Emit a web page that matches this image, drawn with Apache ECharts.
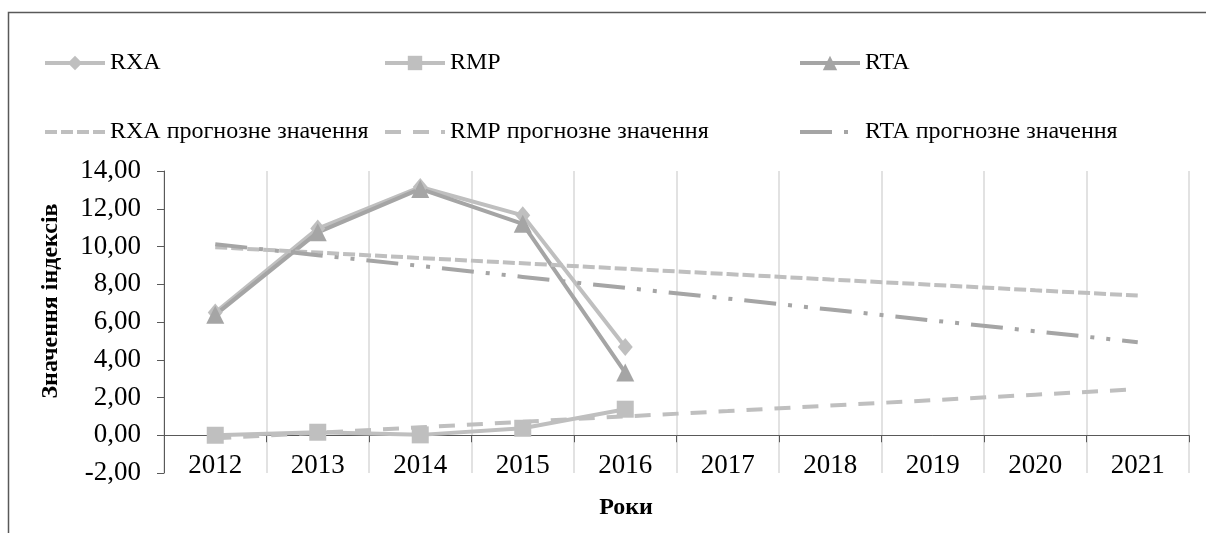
<!DOCTYPE html>
<html>
<head>
<meta charset="utf-8">
<title>RXA / RMP / RTA</title>
<script src="https://cdn.jsdelivr.net/npm/echarts@6/dist/echarts.min.js"></script>
<style>
  html, body { margin: 0; padding: 0; background: #fff; }
  #chart { width: 1206px; height: 533px; }
</style>
</head>
<body>
<div id="chart"></div>
<script>
"use strict";

// роки (категорії осі X)
var years = ['2012', '2013', '2014', '2015', '2016', '2017', '2018', '2019', '2020', '2021'];

// фактичні значення індексів (2012-2016)
var rxa = [6.50, 10.95, 13.15, 11.65, 4.68];
var rmp = [0.00, 0.16, 0.02, 0.37, 1.38];
var rta = [6.38, 10.75, 13.05, 11.20, 3.32];

// прогнозні значення (2012-2021)
var rxaForecast = [9.96, 9.68, 9.39, 9.11, 8.82, 8.54, 8.25, 7.97, 7.68, 7.40];
var rmpForecast = [-0.16, 0.13, 0.42, 0.71, 1.00, 1.28, 1.57, 1.86, 2.15, 2.44];
var rtaForecast = [10.12, 9.54, 8.97, 8.39, 7.81, 7.24, 6.66, 6.08, 5.51, 4.93];

// підписи осі Y
var yMin = -2, yMax = 14, yStep = 2;

var FONT = '"Liberation Serif", "Times New Roman", serif';
var LIGHT = '#bfbfbf', DARK = '#a5a5a5', AXIS = '#595959';
var GRID_TOP = 171, GRID_H = 302;

/**
 * build one legend column (actual series on top, forecast below)
 * @param left
 * @param name
 */
function legendColumn(left, name) {
  return {
    orient: 'vertical',
    left: left,
    top: 51,
    padding: 0,
    itemWidth: 60,
    itemHeight: 18,
    itemGap: 45,
    lineStyle: { width: 4 },
    data: [
      name,
      { name: name + ' прогнозне значення', itemStyle: { opacity: 0 } }
    ],
    textStyle: { fontFamily: FONT, fontSize: 24, lineHeight: 24, color: '#000' }
  };
}

/**
 * actual values series
 */
function actualSeries(name, data, color, symbol, size) {
  return {
    name: name,
    type: 'line',
    data: data,
    symbol: symbol,
    symbolSize: size,
    showAllSymbol: true,
    itemStyle: { color: color },
    lineStyle: { color: color, width: 4 },
    emphasis: { disabled: true },
    animation: false
  };
}

/**
 * forecast series
 */
function forecastSeries(name, data, color, dash) {
  return {
    name: name,
    type: 'line',
    data: data,
    symbol: 'none',
    itemStyle: { color: color },
    lineStyle: { color: color, width: 4, type: dash },
    emphasis: { disabled: true },
    animation: false
  };
}

// x axis sits on the zero line: shift it up from the grid bottom
var zeroOffset = -GRID_H * (0 - yMin) / (yMax - yMin);

var chart = echarts.init(document.getElementById('chart'), null, { renderer: 'canvas' });

chart.setOption({
  backgroundColor: '#fff',
  animation: false,
  legend: [
    legendColumn(43, 'RXA'),
    legendColumn(383, 'RMP'),
    legendColumn(798, 'RTA')
  ],
  grid: { left: 164, top: GRID_TOP, width: 1025, height: GRID_H, containLabel: false },
  xAxis: {
    type: 'category',
    data: years,
    boundaryGap: true,
    offset: zeroOffset,
    axisLine: { onZero: false, lineStyle: { color: AXIS, width: 1 } },
    axisTick: { show: true, length: 7, lineStyle: { color: AXIS } },
    axisLabel: { margin: 17, fontFamily: FONT, fontSize: 27, color: '#000' },
    splitLine: { show: true, lineStyle: { color: '#d9d9d9', width: 1.5 } }
  },
  yAxis: {
    type: 'value',
    min: yMin,
    max: yMax,
    interval: yStep,
    axisLine: { show: true, lineStyle: { color: AXIS, width: 1 } },
    axisTick: { show: true, length: 7, lineStyle: { color: AXIS } },
    axisLabel: {
      margin: 23,
      fontFamily: FONT,
      fontSize: 27,
      color: '#000',
      formatter: function (v) { return v.toFixed(2).replace('.', ','); }
    },
    splitLine: { show: false }
  },
  series: [
    actualSeries('RXA', rxa, LIGHT, 'diamond', [15, 18]),
    actualSeries('RMP', rmp, LIGHT, 'rect', 17),
    actualSeries('RTA', rta, DARK, 'triangle', 18),
    forecastSeries('RXA прогнозне значення', rxaForecast, LIGHT, [12, 4]),
    forecastSeries('RMP прогнозне значення', rmpForecast, LIGHT, [16, 12]),
    forecastSeries('RTA прогнозне значення', rtaForecast, DARK, [32, 12, 4, 12, 4, 12])
  ],
  graphic: [
    {
      type: 'rect',
      shape: { x: 8.5, y: 12.5, width: 1400, height: 700 },
      style: { fill: 'none', stroke: AXIS, lineWidth: 1.5 },
      silent: true
    },
    {
      type: 'text',
      x: 51,
      y: 301,
      rotation: Math.PI / 2,
      style: {
        text: 'Значення індексів',
        fontFamily: FONT,
        fontSize: 24,
        fontWeight: 'bold',
        fill: '#000',
        align: 'center',
        verticalAlign: 'middle'
      }
    },
    {
      type: 'text',
      x: 626,
      y: 508,
      style: {
        text: 'Роки',
        fontFamily: FONT,
        fontSize: 24,
        fontWeight: 'bold',
        fill: '#000',
        align: 'center',
        verticalAlign: 'middle'
      }
    }
  ]
});

window.addEventListener('resize', function () {
  chart.resize();
});
</script>
</body>
</html>
